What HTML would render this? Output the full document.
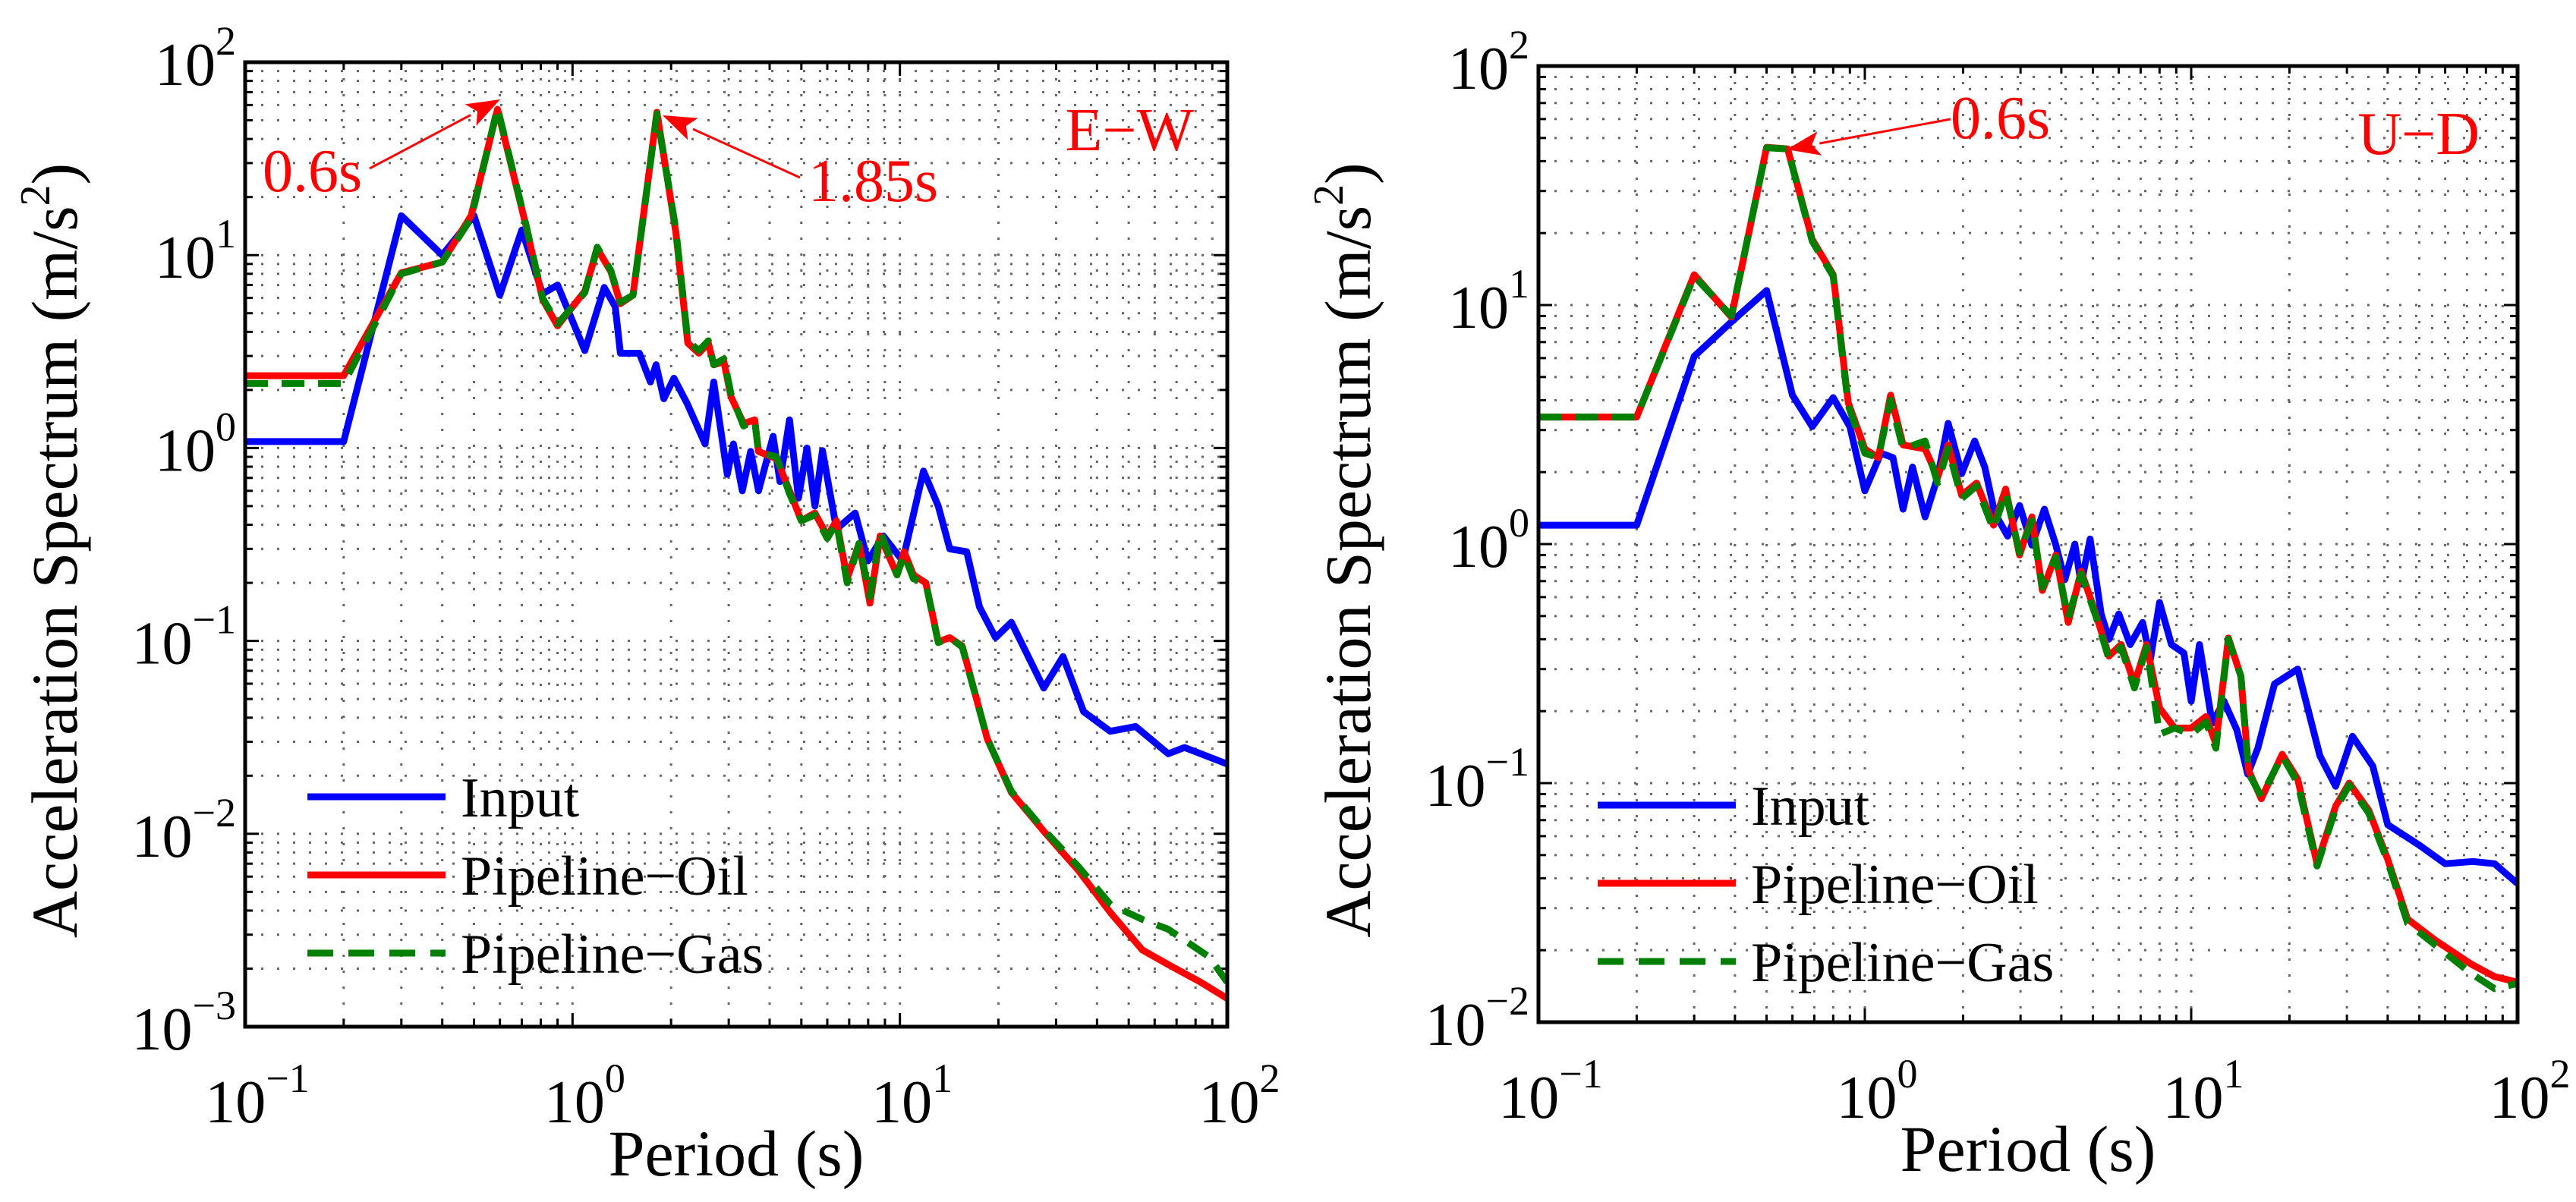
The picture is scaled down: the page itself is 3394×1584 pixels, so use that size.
<!DOCTYPE html>
<html><head><meta charset="utf-8">
<style>
html,body{margin:0;padding:0;background:#fff;}
svg{display:block;font-family:"Liberation Serif","Times New Roman",Times,serif;}
</style></head>
<body>
<svg id="chart" width="3394" height="1584" viewBox="0 0 3394 1584" xmlns="http://www.w3.org/2000/svg" font-family="Liberation Serif, Times New Roman, serif"></svg>
<script>
// ---- Left panel (E-W) data ----
const ewInputT = [0.1,0.2,0.30,0.40,0.50,0.60,0.70,0.81,0.90,1.09,1.25,1.35,1.40,1.6,1.73,1.8,1.9,2.04,2.24,2.54,2.7,2.97,3.1,3.3,3.5,3.7,4.1,4.3,4.6,4.9,5.2,5.5,5.8,6.4,7.3,7.98,8.9,10.2,11.8,13.1,14.2,16.0,17.5,19.6,21.9,27.5,31.5,36.4,43.9,52.5,66,74,100];
const ewInputA = [1.08,1.08,16,10,16,6.2,13.5,6.3,7.0,3.2,6.8,5.4,3.1,3.1,2.2,2.7,1.8,2.3,1.7,1.05,2.2,0.73,1.05,0.6,0.96,0.6,1.15,0.67,1.4,0.55,1.0,0.5,0.97,0.38,0.46,0.26,0.35,0.26,0.76,0.50,0.30,0.29,0.15,0.104,0.125,0.057,0.083,0.043,0.034,0.036,0.026,0.028,0.023];
const ewOilT = [0.1,0.2,0.30,0.40,0.49,0.59,0.72,0.81,0.90,1.09,1.19,1.31,1.40,1.53,1.81,2.07,2.25,2.43,2.6,2.7,2.9,3.05,3.33,3.6,3.7,4.2,4.6,5.0,5.5,6.0,6.4,6.9,7.5,8.1,8.7,9.8,10.3,11.0,12.0,13.1,14.2,15.5,18.5,21.9,27.8,35,44,55,66,83,100];
const ewOilA = [2.37,2.37,8.1,9.2,16,57,14.3,5.9,4.3,6.5,10.8,8.2,5.6,6.2,55,13,3.5,3.1,3.5,2.7,2.8,1.84,1.34,1.4,0.96,0.88,0.6,0.42,0.46,0.35,0.42,0.21,0.32,0.157,0.35,0.22,0.29,0.22,0.20,0.099,0.104,0.094,0.031,0.0164,0.0101,0.0065,0.0039,0.0025,0.0021,0.0017,0.0014];
const ewGasT = [0.1,0.2,0.30,0.40,0.49,0.59,0.72,0.81,0.90,1.09,1.19,1.31,1.40,1.53,1.81,2.07,2.25,2.43,2.6,2.7,2.9,3.05,3.33,3.6,3.7,4.2,4.6,5.0,5.5,6.0,6.4,6.9,7.5,8.1,8.7,9.8,10.3,11.0,12.0,13.1,14.2,15.5,18.5,21.9,27.8,35,44,55,66,88,100];
const ewGasA = [2.16,2.16,8.0,9.2,15.5,58,14.5,6.0,4.4,6.4,11,8.3,5.7,6.2,54,13.5,3.6,3.2,3.6,2.7,2.9,1.9,1.3,1.4,0.95,0.9,0.58,0.42,0.45,0.34,0.41,0.2,0.32,0.17,0.37,0.22,0.28,0.21,0.20,0.098,0.104,0.093,0.031,0.0166,0.0103,0.0068,0.0043,0.0036,0.0032,0.0023,0.0017];
// ---- Right panel (U-D) data ----
const udInputT = [0.1,0.2,0.30,0.39,0.50,0.60,0.69,0.80,0.90,1.0,1.12,1.22,1.31,1.4,1.53,1.67,1.8,1.98,2.17,2.33,2.5,2.74,2.98,3.25,3.55,3.85,4.1,4.4,4.6,4.9,5.3,5.6,6.0,6.5,7.1,7.5,8.0,8.7,9.5,10.0,10.6,11.6,12.6,13.8,14.9,16,18,21.2,24.8,27.7,31.2,36,40,50,60,73,85,100];
const udInputA = [1.2,1.2,6.1,8.5,11.5,4.2,3.1,4.1,3.1,1.67,2.4,2.3,1.4,2.1,1.3,1.9,3.2,1.97,2.7,2.1,1.35,1.08,1.45,0.99,1.4,0.99,0.71,1.0,0.68,1.05,0.51,0.40,0.51,0.38,0.47,0.33,0.57,0.38,0.35,0.22,0.38,0.178,0.22,0.167,0.109,0.14,0.26,0.30,0.13,0.097,0.157,0.118,0.067,0.055,0.046,0.047,0.046,0.038];
const udOilT = [0.1,0.2,0.30,0.39,0.50,0.58,0.69,0.80,0.89,1.0,1.1,1.2,1.31,1.53,1.67,1.8,1.98,2.2,2.48,2.7,2.98,3.25,3.5,3.85,4.2,4.6,5.1,5.6,6.1,6.7,7.3,8.0,8.9,10,11.1,11.9,13.0,14.2,15.0,16.4,19.0,21.2,24.3,27.7,30.5,35,40,46,56,72,85,100];
const udOilA = [3.4,3.4,13.4,8.9,45.7,45,18.8,13.4,3.9,2.5,2.3,4.2,2.6,2.5,1.9,2.6,1.6,1.8,1.2,1.7,0.9,1.3,0.64,0.9,0.47,0.77,0.51,0.34,0.38,0.26,0.38,0.206,0.17,0.17,0.19,0.146,0.405,0.28,0.113,0.086,0.132,0.104,0.046,0.080,0.10,0.077,0.048,0.027,0.022,0.0175,0.0155,0.0147];
const udGasT = [0.1,0.2,0.30,0.39,0.50,0.58,0.69,0.80,0.89,1.0,1.1,1.2,1.31,1.53,1.67,1.8,1.98,2.2,2.48,2.7,2.98,3.25,3.5,3.85,4.2,4.6,5.1,5.6,6.1,6.7,7.3,8.0,8.9,10,11.1,11.9,13.0,14.2,15.0,16.4,19.0,21.2,24.3,27.7,30.5,35,40,46,56,72,85,100];
const udGasA = [3.4,3.4,13.2,9.0,45.5,45,18.5,13.2,3.8,2.4,2.3,4.0,2.5,2.7,1.8,2.5,1.55,1.75,1.15,1.65,0.92,1.25,0.66,0.88,0.49,0.75,0.50,0.33,0.37,0.25,0.37,0.16,0.17,0.16,0.18,0.14,0.40,0.28,0.11,0.088,0.13,0.10,0.045,0.078,0.098,0.075,0.047,0.026,0.021,0.016,0.0138,0.0145];
const xTickExp = [-1,0,1,2];
const ewYTickExp = [-3,-2,-1,0,1,2];
const udYTickExp = [-2,-1,0,1,2];
const legendLabels = ["Input","Pipeline\u2212Oil","Pipeline\u2212Gas"];

const NS="http://www.w3.org/2000/svg";
const svg=document.getElementById('chart');
function mk(tag,attrs,parent){const e=document.createElementNS(NS,tag);for(const k in attrs)e.setAttribute(k,attrs[k]);(parent||svg).appendChild(e);return e;}

function panel(opt){
  const g=mk('g',{});
  
  
  const L=opt.x0,R=opt.x1,T=opt.y0,B=opt.y1;
  const xs=v=>L+(Math.log10(v)-(-1))/3*(R-L);
  const ys=v=>T+(opt.yMax-Math.log10(v))/(opt.yMax-opt.yMin)*(B-T);
  const grid=mk('g',{stroke:'#000','stroke-width':3,'stroke-dasharray':'3 18',opacity:0.6},g);
  
  
  const ticks=mk('g',{stroke:'#000','stroke-width':3},g);
  for(let e=-1;e<2;e++){for(let m=1;m<10;m++){const v=m*Math.pow(10,e);const x=xs(v);
    if(x>L+1&&x<R-1) mk('line',{x1:x,y1:T,x2:x,y2:B},grid);
    const len=m===1?18:10;
    mk('line',{x1:x,y1:B,x2:x,y2:B-len},ticks);mk('line',{x1:x,y1:T,x2:x,y2:T+len},ticks);}}
  for(let e=opt.yMin;e<opt.yMax;e++){for(let m=1;m<10;m++){const v=m*Math.pow(10,e);const y=ys(v);
    if(y>T+1&&y<B-1) mk('line',{x1:L,y1:y,x2:R,y2:y},grid);
    const len=m===1?18:10;
    mk('line',{x1:L,y1:y,x2:L+len,y2:y},ticks);mk('line',{x1:R,y1:y,x2:R-len,y2:y},ticks);}}
  const clip='clip-'+opt.name;
  const cp=mk('clipPath',{id:clip},g);mk('rect',{x:L,y:T,width:R-L,height:B-T},cp);
  opt.series.forEach(s=>{
    const d=s.t.map((t,i)=>(i?'L':'M')+xs(t).toFixed(1)+' '+ys(s.a[i]).toFixed(1)).join(' ');
    const p=mk('path',{d:d,fill:'none',stroke:s.color,'stroke-width':9,'stroke-linejoin':'round','clip-path':'url(#'+clip+')'},g);
    if(s.dash)p.setAttribute('stroke-dasharray',s.dash);
    
    
  });
  const fr=mk('rect',{x:L,y:T,width:R-L,height:B-T,fill:'none',stroke:'#000','stroke-width':5},g);
  
  
  xTickExp.forEach(e=>{const x=xs(Math.pow(10,e));
    const t=mk('text',{x:x+16,y:B+126,'font-size':80,'text-anchor':'middle'},g);
    
    
    t.appendChild(document.createTextNode('10'));
    const sp=mk('tspan',{dy:-40,'font-size':54},t);sp.textContent=e<0?'\u2212'+(-e):String(e);});
  opt.yTicks.forEach(e=>{const y=ys(Math.pow(10,e));
    const t=mk('text',{x:L-12,y:y+30,'font-size':80,'text-anchor':'end'},g);
    
    
    t.appendChild(document.createTextNode('10'));
    const sp=mk('tspan',{dy:-40,'font-size':54},t);sp.textContent=e<0?'\u2212'+(-e):String(e);});
  const xt=mk('text',{x:(L+R)/2,y:B+196,'font-size':86,'text-anchor':'middle'},g);
  
  
  xt.textContent='Period (s)';
  const yx=L-222, yy=(T+B)/2+8;
  const yt=mk('text',{x:yx,y:yy,'font-size':86,'text-anchor':'middle',transform:'rotate(-90 '+yx+' '+yy+')'},g);
  
  
  yt.appendChild(document.createTextNode('Acceleration Spectrum (m/s'));
  const s2=mk('tspan',{dy:-36,'font-size':56},yt);s2.textContent='2';
  const s3=mk('tspan',{dy:36},yt);s3.textContent=')';
  const lg=mk('g',{},g);
  
  
  opt.series.forEach((s,i)=>{const y=opt.legY+i*103;
    const ln=mk('line',{x1:opt.legX,y1:y,x2:opt.legX+182,y2:y,stroke:s.color,'stroke-width':9},lg);
    if(s.dash)ln.setAttribute('stroke-dasharray','34 20');
    
    
    const tx=mk('text',{x:opt.legX+202,y:y+26,'font-size':74},lg);
    
    
    tx.textContent=legendLabels[i];});
  const cl=mk('text',{x:opt.compX,y:T+116,'font-size':80,fill:'#ff0000','text-anchor':'end'},g);
  
  
  cl.textContent=opt.comp;
  opt.notes.forEach(n=>{
    const t=mk('text',{x:n.tx,y:n.ty,'font-size':80,fill:'#ff0000','text-anchor':n.anchor||'start'},g);
    
    
    t.textContent=n.label;
    const ang=Math.atan2(n.y2-n.y1,n.x2-n.x1);
    const bx=n.x2-44*Math.cos(ang), by=n.y2-44*Math.sin(ang);
    const l=mk('line',{x1:n.x1,y1:n.y1,x2:bx,y2:by,stroke:'#ff0000','stroke-width':3},g);
    
    
    const px=-Math.sin(ang)*16, py=Math.cos(ang)*16;
    const hd=mk('polygon',{points:`${n.x2},${n.y2} ${bx+px},${by+py} ${bx+10*Math.cos(ang)},${by+10*Math.sin(ang)} ${bx-px},${by-py}`,fill:'#ff0000'},g);
    
    
  });
}

panel({name:'ew-panel',x0:323,x1:1617,y0:82,y1:1353,yMin:-3,yMax:2,yTicks:ewYTickExp,
  series:[{name:'ew-input-line',t:ewInputT,a:ewInputA,color:'#0000ff'},
          {name:'ew-oil-line',t:ewOilT,a:ewOilA,color:'#ff0000'},
          {name:'ew-gas-line',t:ewGasT,a:ewGasA,color:'#008000',dash:'30 18'}],
  legX:405,legY:1050,comp:'E\u2212W',compX:1573,
  notes:[{label:'0.6s',tx:346,ty:252,x1:487,y1:222,x2:659,y2:131},
         {label:'1.85s',tx:1065,ty:265,x1:1054,y1:234,x2:873,y2:152}]});
panel({name:'ud-panel',x0:2027,x1:3317,y0:87,y1:1347,yMin:-2,yMax:2,yTicks:udYTickExp,
  series:[{name:'ud-input-line',t:udInputT,a:udInputA,color:'#0000ff'},
          {name:'ud-oil-line',t:udOilT,a:udOilA,color:'#ff0000'},
          {name:'ud-gas-line',t:udGasT,a:udGasA,color:'#008000',dash:'30 18'}],
  legX:2105,legY:1061,comp:'U\u2212D',compX:3267,
  notes:[{label:'0.6s',tx:2570,ty:182,x1:2570,y1:157,x2:2354,y2:197}]});
</script>
</body></html>
